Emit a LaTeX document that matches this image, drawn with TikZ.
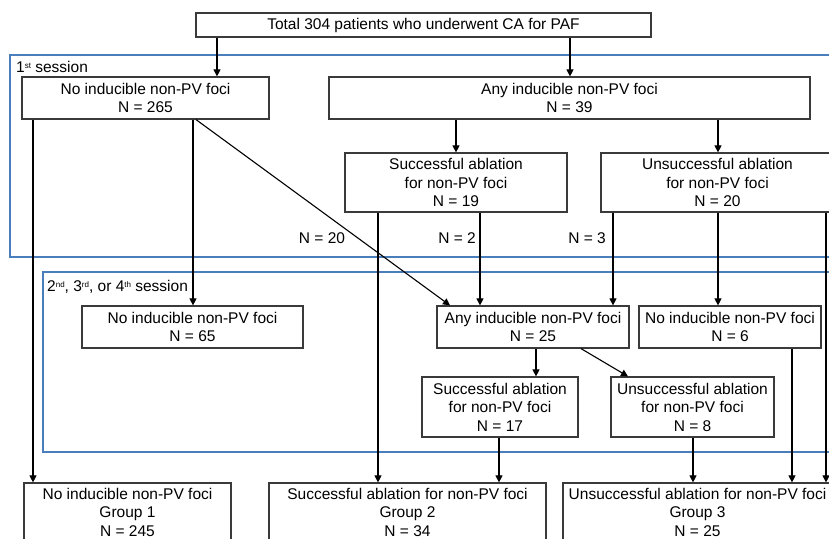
\documentclass[tikz,border=0pt]{standalone}
\usepackage{fontspec}
\setmainfont{Liberation Sans}
\usetikzlibrary{arrows.meta}
\definecolor{frameblue}{HTML}{4A7EBB}
\definecolor{boxline}{HTML}{3A3A3A}
\tikzset{
  box/.style={draw=boxline, line width=1.2pt, rectangle, align=center, inner sep=0pt,
    font=\fontsize{15.5pt}{18.5pt}\selectfont},
  arr/.style={draw=black, line width=1.1pt, -{Triangle[length=7pt,width=7pt]}},
  plain/.style={draw=black, line width=1.1pt},
  frame/.style={draw=frameblue, line width=1.4pt},
  lbl/.style={inner sep=0pt, font=\fontsize{15.5pt}{18.5pt}\selectfont},
  sess/.style={inner sep=0pt, anchor=west, font=\fontsize{15.5pt}{18.5pt}\selectfont}
}
\newcommand{\sups}[1]{\raisebox{0.55ex}{\fontsize{8pt}{8pt}\selectfont #1}}
\begin{document}
\begin{tikzpicture}[x=1pt,y=-1pt]
\useasboundingbox (0,0) rectangle (829,538);
\fill[white] (0,0) rectangle (829,538);
\clip (0,0) rectangle (829,538);

% session frames
\draw[frame] (845,55) -- (10,55) -- (10,257) -- (845,257);
\draw[frame] (845,272) -- (43,272) -- (43,452) -- (845,452);
\node[sess] (s1) at (16,67) {1\sups{st} session};
\node[sess] (s2) at (47,287) {2\sups{nd}, 3\sups{rd}, or 4\sups{th} session};

% boxes
\node[box, minimum width=455pt, minimum height=24pt] (total) at (423.5,25) {Total 304 patients who underwent CA for PAF};
\node[box, minimum width=247pt, minimum height=42pt] (no1) at (145.5,98) {No inducible non-PV foci\\N = 265};
\node[box, minimum width=481pt, minimum height=42pt] (any1) at (569.5,98) {Any inducible non-PV foci\\N = 39};
\node[box, minimum width=222pt, minimum height=59pt] (suc1) at (456,182.5) {Successful ablation\\for non-PV foci\\N = 19};
\node[box, minimum width=233pt, minimum height=59pt] (uns1) at (717.5,182.5) {Unsuccessful ablation\\for non-PV foci\\N = 20};
\node[box, minimum width=221pt, minimum height=42pt] (no2) at (192.5,327) {No inducible non-PV foci\\N = 65};
\node[box, minimum width=192pt, minimum height=42pt] (any2) at (533,327) {Any inducible non-PV foci\\N = 25};
\node[box, minimum width=182pt, minimum height=42pt] (no6) at (730,327) {No inducible non-PV foci\\N = 6};
\node[box, minimum width=156pt, minimum height=60pt] (suc2) at (500,407) {Successful ablation\\for non-PV foci\\N = 17};
\node[box, minimum width=163pt, minimum height=60pt] (uns2) at (692.5,407) {Unsuccessful ablation\\for non-PV foci\\N = 8};
\node[box, minimum width=207pt, minimum height=58pt] (g1) at (127.5,512) {No inducible non-PV foci\\Group 1\\N = 245};
\node[box, minimum width=277pt, minimum height=58pt] (g2) at (407.5,512) {Successful ablation for non-PV foci\\Group 2\\N = 34};
\node[box, minimum width=269pt, minimum height=58pt] (g3) at (697.5,512) {Unsuccessful ablation for non-PV foci\\Group 3\\N = 25};

% flow labels
\node[lbl] (n20) at (322,238) {N = 20};
\node[lbl] (n2) at (457,238) {N = 2};
\node[lbl] (n3) at (587,238) {N = 3};

% column coordinates
\coordinate (c217) at (217,0);
\coordinate (c570) at (570,0);
\coordinate (c33) at (33,0);
\coordinate (c193) at (193,0);
\coordinate (c196) at (196,0);
\coordinate (c450) at (450,0);
\coordinate (c456) at (456,0);
\coordinate (c718) at (718,0);
\coordinate (c378) at (378,0);
\coordinate (c480) at (480,0);
\coordinate (c613) at (613,0);
\coordinate (c826) at (826,0);
\coordinate (c536) at (536,0);
\coordinate (c581) at (581,0);
\coordinate (c628) at (628,0);
\coordinate (c499) at (499,0);
\coordinate (c693) at (693,0);
\coordinate (c792) at (792,0);

% connectors
\draw[arr] (total.south -| c217) -- (no1.north -| c217);
\draw[arr] (total.south -| c570) -- (any1.north -| c570);
\draw[arr] (no1.south -| c33) -- (g1.north -| c33);
\draw[arr] (no1.south -| c193) -- (no2.north -| c193);
\draw[arr] (no1.south -| c196) -- (any2.north -| c450);
\draw[arr] (any1.south -| c456) -- (suc1.north -| c456);
\draw[arr] (any1.south -| c718) -- (uns1.north -| c718);
\draw[arr] (suc1.south -| c378) -- (g2.north -| c378);
\draw[arr] (suc1.south -| c480) -- (any2.north -| c480);
\draw[arr] (uns1.south -| c613) -- (any2.north -| c613);
\draw[arr] (uns1.south -| c718) -- (no6.north -| c718);
\draw[arr] (uns1.south -| c826) -- (g3.north -| c826);
\draw[arr] (any2.south -| c536) -- (suc2.north -| c536);
\draw[arr] (any2.south -| c581) -- (uns2.north -| c628);
\draw[arr] (suc2.south -| c499) -- (g2.north -| c499);
\draw[arr] (uns2.south -| c693) -- (g3.north -| c693);
\draw[arr] (no6.south -| c792) -- (g3.north -| c792);
\end{tikzpicture}
\end{document}
